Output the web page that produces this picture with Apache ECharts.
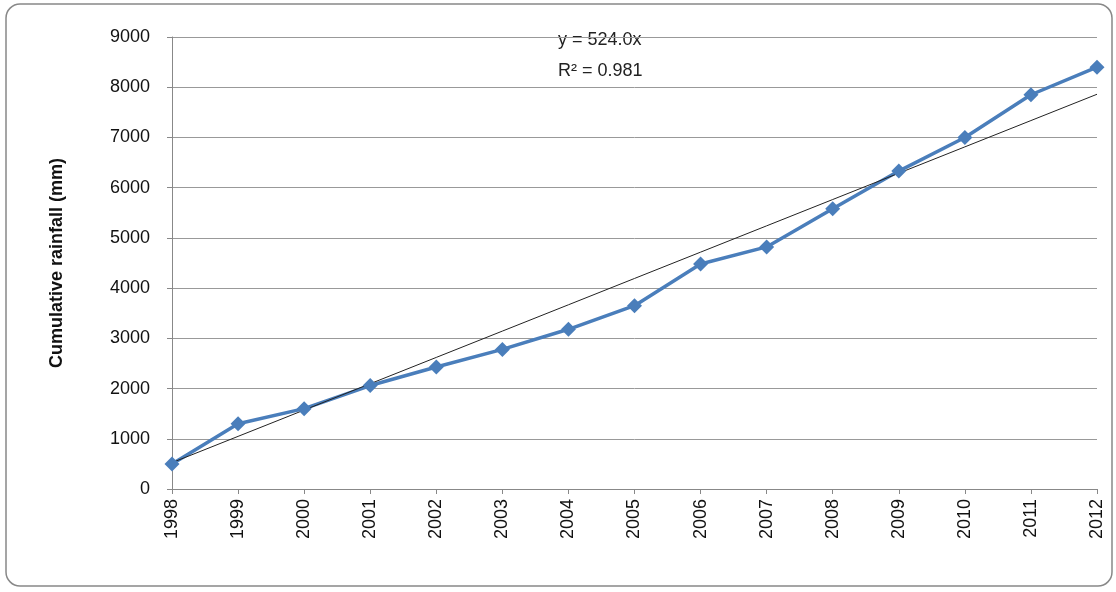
<!DOCTYPE html>
<html><head><meta charset="utf-8">
<script src="https://cdn.jsdelivr.net/npm/echarts@6/dist/echarts.min.js"></script>
<style>html,body{margin:0;padding:0;background:#fff}#c{width:1116px;height:592px}</style>
</head><body><div id="c"></div>
<script>
const years = ['1998','1999','2000','2001','2002','2003','2004','2005','2006','2007','2008','2009','2010','2011','2012'];
const rainfall = [500,1300,1600,2060,2430,2780,3180,3650,4480,4820,5580,6330,7000,7850,8400];
const slope = 524.0;
const trend = years.map((y,i)=>slope*(i+1));
const yTicks = [0,1000,2000,3000,4000,5000,6000,7000,8000,9000];
const chart = echarts.init(document.getElementById('c'));
chart.setOption({
  animation:false,
  graphic:[
    {type:'rect',shape:{x:6,y:4,width:1106,height:582,r:14},style:{fill:'none',stroke:'#888',lineWidth:1.5}},
    {type:'text',left:558,top:31,style:{text:'y = 524.0x',font:'18px "Liberation Sans", Arial',fill:'#222'}},
    {type:'text',left:558,top:62,style:{text:'R² = 0.981',font:'18px "Liberation Sans", Arial',fill:'#222'}}
  ],
  grid:{left:172,right:19,top:37,bottom:103},
  xAxis:{type:'category',data:years,boundaryGap:false,
    axisLine:{lineStyle:{color:'#888'}},axisTick:{show:true,lineStyle:{color:'#888'}},
    axisLabel:{rotate:90,color:'#111',fontSize:18,fontFamily:'Liberation Sans',margin:10}},
  yAxis:{type:'value',min:yTicks[0],max:yTicks[yTicks.length-1],interval:1000,
    name:'Cumulative rainfall (mm)',nameLocation:'middle',nameGap:106,
    nameTextStyle:{fontSize:18,fontWeight:'bold',color:'#111',fontFamily:'Liberation Sans'},
    axisLine:{show:true,lineStyle:{color:'#888'}},axisTick:{show:true,lineStyle:{color:'#888'}},
    axisLabel:{color:'#111',fontSize:18,fontFamily:'Liberation Sans',margin:22,formatter:v=>String(v)},
    splitLine:{lineStyle:{color:'#999',width:1}}},
  series:[
    {type:'line',data:rainfall,symbol:'diamond',symbolSize:15,
      lineStyle:{color:'#4a7ebb',width:3.5},itemStyle:{color:'#4a7ebb'}},
    {type:'line',data:trend,symbol:'none',lineStyle:{color:'#222',width:1}}
  ]
});
</script></body></html>
